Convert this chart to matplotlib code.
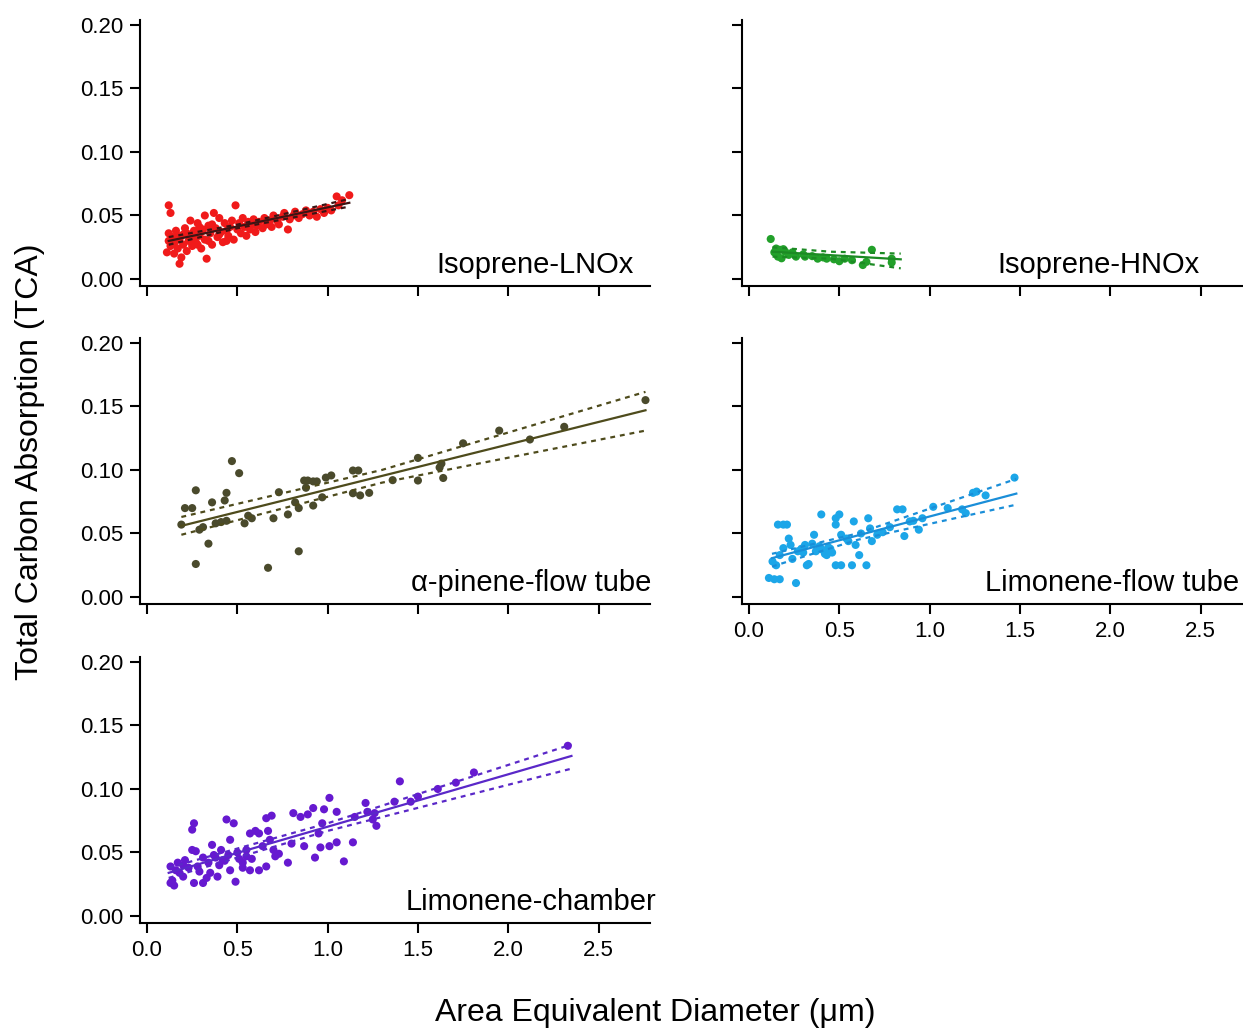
import numpy as np
import matplotlib
matplotlib.use('Agg')
import matplotlib.pyplot as plt

plt.rcParams['font.family'] = ['Liberation Sans', 'DejaVu Sans']
plt.rcParams['axes.linewidth'] = 1.5

# ---- Isoprene-LNOx (red) ----
lnox_d = [0.12, 0.13, 0.12, 0.11, 0.12, 0.13, 0.14, 0.15, 0.15, 0.16,
          0.17, 0.17, 0.18, 0.18, 0.19, 0.20, 0.20, 0.21, 0.22, 0.22,
          0.23, 0.24, 0.24, 0.25, 0.26, 0.26, 0.27, 0.28, 0.28, 0.29,
          0.29, 0.30, 0.30, 0.31, 0.32, 0.32, 0.33, 0.34, 0.34, 0.35,
          0.36, 0.36, 0.37, 0.38, 0.39, 0.40, 0.40, 0.41, 0.42, 0.43,
          0.44, 0.44, 0.45, 0.46, 0.47, 0.48, 0.49, 0.50, 0.51, 0.52,
          0.53, 0.54, 0.55, 0.56, 0.57, 0.58, 0.59, 0.60, 0.61, 0.62,
          0.64, 0.65, 0.66, 0.68, 0.69, 0.70, 0.72, 0.73, 0.75, 0.76,
          0.78, 0.79, 0.81, 0.82, 0.84, 0.86, 0.88, 0.90, 0.92, 0.94,
          0.96, 0.98, 1.00, 1.02, 1.05, 1.06, 1.08, 1.12]
lnox_tca = [0.058, 0.052, 0.036, 0.021, 0.030, 0.026, 0.033, 0.028, 0.020, 0.038,
            0.024, 0.034, 0.012, 0.031, 0.017, 0.035, 0.027, 0.040, 0.022, 0.036,
            0.030, 0.046, 0.033, 0.026, 0.038, 0.032, 0.029, 0.044, 0.027, 0.034,
            0.041, 0.024, 0.037, 0.039, 0.050, 0.031, 0.016, 0.042, 0.030, 0.036,
            0.027, 0.043, 0.052, 0.040, 0.033, 0.048, 0.035, 0.037, 0.029, 0.044,
            0.038, 0.030, 0.034, 0.041, 0.046, 0.031, 0.058, 0.039, 0.044, 0.036,
            0.048, 0.041, 0.034, 0.045, 0.039, 0.043, 0.047, 0.037, 0.042, 0.045,
            0.040, 0.048, 0.043, 0.046, 0.041, 0.050, 0.046, 0.043, 0.049, 0.052,
            0.039, 0.047, 0.050, 0.053, 0.048, 0.051, 0.054, 0.050, 0.053, 0.049,
            0.055, 0.052, 0.056, 0.054, 0.065, 0.058, 0.062, 0.066]
lnox_fx = [0.12, 0.5, 1.12]
lnox_fit = [0.030, 0.0414, 0.060]
lnox_hi = [0.033, 0.0428, 0.063]
lnox_lo = [0.027, 0.0400, 0.057]

# ---- Isoprene-HNOx (green) ----
hnox_d = [0.12, 0.15, 0.17, 0.19, 0.20, 0.16, 0.18, 0.22, 0.26, 0.30,
          0.31, 0.35, 0.38, 0.41, 0.43, 0.47, 0.50, 0.53, 0.57, 0.63,
          0.65, 0.68, 0.79, 0.79, 0.14, 0.24]
hnox_tca = [0.0315, 0.024, 0.023, 0.0235, 0.0215, 0.0176, 0.0163, 0.019, 0.0176, 0.0194,
            0.0176, 0.018, 0.016, 0.017, 0.016, 0.0155, 0.014, 0.016, 0.0148, 0.011,
            0.0135, 0.023, 0.016, 0.013, 0.021, 0.021]
hnox_fx = [0.13, 0.45, 0.84]
hnox_fit = [0.0215, 0.0188, 0.0155]
hnox_hi = [0.025, 0.0215, 0.020]
hnox_lo = [0.0176, 0.016, 0.0084]

# ---- alpha-pinene flow tube (olive) ----
apin_d = [0.19, 0.21, 0.25, 0.27, 0.34, 0.27, 0.29, 0.31, 0.36, 0.41,
          0.43, 0.44, 0.47, 0.51, 0.44, 0.54, 0.56, 0.67, 0.70, 0.73,
          0.78, 0.82, 0.84, 0.84, 0.87, 0.89, 0.92, 0.92, 0.94, 0.97,
          0.99, 1.02, 0.88, 1.14, 1.17, 1.14, 1.18, 1.23, 1.36, 1.50,
          1.50, 1.62, 1.63, 1.64, 1.75, 1.95, 2.12, 2.31, 2.76, 0.38, 0.58]
apin_tca = [0.057, 0.070, 0.070, 0.084, 0.042, 0.026, 0.053, 0.055, 0.0745, 0.059,
            0.076, 0.082, 0.107, 0.0975, 0.060, 0.058, 0.064, 0.023, 0.062, 0.0825,
            0.065, 0.0745, 0.070, 0.036, 0.0917, 0.0917, 0.091, 0.072, 0.091, 0.0785,
            0.094, 0.0957, 0.086, 0.0996, 0.0996, 0.0817, 0.080, 0.082, 0.092, 0.1095,
            0.0917, 0.102, 0.105, 0.0937, 0.121, 0.131, 0.124, 0.134, 0.155, 0.058, 0.062]
apin_fx = [0.19, 1.3, 2.76]
apin_fit = [0.056, 0.0953, 0.147]
apin_hi = [0.063, 0.100, 0.1615]
apin_lo = [0.049, 0.090, 0.131]

# ---- Limonene flow tube (cyan) ----
limf_d = [0.11, 0.14, 0.17, 0.15, 0.16, 0.19, 0.21, 0.17, 0.19, 0.22,
          0.23, 0.26, 0.27, 0.29, 0.30, 0.31, 0.32, 0.33, 0.36, 0.37,
          0.41, 0.43, 0.45, 0.46, 0.40, 0.48, 0.51, 0.48, 0.48, 0.50,
          0.51, 0.54, 0.57, 0.58, 0.59, 0.61, 0.65, 0.66, 0.67, 0.68,
          0.71, 0.74, 0.78, 0.82, 0.85, 0.86, 0.89, 0.91, 0.94, 0.96,
          1.02, 1.10, 1.18, 1.20, 1.24, 1.26, 1.31, 1.47, 0.42, 0.44,
          0.43, 0.39, 0.24, 0.13, 0.35, 0.55, 0.62]
limf_tca = [0.015, 0.014, 0.014, 0.025, 0.057, 0.057, 0.057, 0.033, 0.0385, 0.046,
            0.041, 0.011, 0.036, 0.038, 0.035, 0.041, 0.025, 0.026, 0.049, 0.036,
            0.037, 0.036, 0.038, 0.035, 0.065, 0.025, 0.025, 0.057, 0.062, 0.065,
            0.049, 0.046, 0.025, 0.0595, 0.041, 0.033, 0.025, 0.062, 0.054, 0.044,
            0.049, 0.051, 0.055, 0.069, 0.069, 0.048, 0.0595, 0.060, 0.053, 0.062,
            0.071, 0.070, 0.069, 0.066, 0.082, 0.083, 0.080, 0.094, 0.034, 0.039,
            0.033, 0.040, 0.030, 0.028, 0.042, 0.044, 0.050]
limf_fx = [0.127, 0.6, 1.48]
limf_fit = [0.0306, 0.0484, 0.0814]
limf_hi = [0.034, 0.050, 0.093]
limf_lo = [0.024, 0.045, 0.0727]

# ---- Limonene chamber (purple) ----
limc_d = [0.13, 0.13, 0.14, 0.17, 0.20, 0.21, 0.25, 0.26, 0.26, 0.31,
          0.25, 0.27, 0.28, 0.31, 0.34, 0.35, 0.36, 0.38, 0.40, 0.41,
          0.43, 0.44, 0.46, 0.48, 0.49, 0.51, 0.53, 0.55, 0.57, 0.60,
          0.62, 0.57, 0.62, 0.66, 0.66, 0.69, 0.67, 0.68, 0.70, 0.71,
          0.73, 0.78, 0.80, 0.81, 0.85, 0.87, 0.89, 0.92, 0.93, 0.95,
          0.97, 0.98, 1.01, 0.96, 1.01, 1.05, 1.05, 1.09, 1.14, 1.15,
          1.21, 1.22, 1.26, 1.27, 1.25, 1.40, 1.37, 1.46, 1.50, 1.61,
          1.71, 1.81, 2.33, 0.16, 0.20, 0.23, 0.29, 0.37, 0.39, 0.46,
          0.50, 0.53, 0.58, 0.64, 0.45, 0.15, 0.18, 0.33, 0.42, 0.55]
limc_tca = [0.026, 0.039, 0.028, 0.042, 0.040, 0.044, 0.068, 0.073, 0.026, 0.026,
            0.052, 0.051, 0.039, 0.046, 0.042, 0.034, 0.056, 0.046, 0.040, 0.052,
            0.0435, 0.076, 0.060, 0.073, 0.027, 0.045, 0.042, 0.047, 0.065, 0.067,
            0.065, 0.036, 0.036, 0.039, 0.077, 0.079, 0.067, 0.060, 0.052, 0.047,
            0.049, 0.042, 0.057, 0.081, 0.078, 0.055, 0.080, 0.085, 0.046, 0.065,
            0.073, 0.084, 0.093, 0.054, 0.055, 0.082, 0.058, 0.043, 0.058, 0.078,
            0.089, 0.082, 0.081, 0.071, 0.076, 0.106, 0.090, 0.090, 0.094, 0.100,
            0.105, 0.113, 0.134, 0.036, 0.031, 0.038, 0.035, 0.048, 0.031, 0.036,
            0.050, 0.038, 0.045, 0.055, 0.048, 0.024, 0.034, 0.030, 0.044, 0.052]
limc_fx = [0.12, 1.0, 2.35]
limc_fit = [0.034, 0.0703, 0.126]
limc_hi = [0.038, 0.073, 0.135]
limc_lo = [0.030, 0.067, 0.116]

yticks = [0.00, 0.05, 0.10, 0.15, 0.20]
xticks = [0.0, 0.5, 1.0, 1.5, 2.0, 2.5]

fig = plt.figure(figsize=(12.43, 10.29), dpi=100)

W, H = 1243.0, 1029.0
def make_ax(left_px, bottom_px):
    # axes box 510 x 266 px, bottom edge = x spine position
    return fig.add_axes([left_px / W, 1 - bottom_px / H, 510 / W, 266 / H])

panels = [
    # left, bottom, x, y, fit..., pts color, line color, label, label x, xlabels, ylabels
    (140, 286, lnox_d, lnox_tca, lnox_fx, lnox_fit, lnox_hi, lnox_lo, '#f01a1a', '#3c1414',
     'Isoprene-LNOx', 0.968, False, True),
    (742, 286, hnox_d, hnox_tca, hnox_fx, hnox_fit, hnox_hi, hnox_lo, '#22a02a', '#1c8a24',
     'Isoprene-HNOx', 0.898, False, False),
    (140, 604, apin_d, apin_tca, apin_fx, apin_fit, apin_hi, apin_lo, '#4a4a2c', '#4e4b1c',
     '\u03b1-pinene-flow tube', 1.002, False, True),
    (742, 604, limf_d, limf_tca, limf_fx, limf_fit, limf_hi, limf_lo, '#1ca6e8', '#1a8ed8',
     'Limonene-flow tube', 0.974, True, False),
    (140, 923, limc_d, limc_tca, limc_fx, limc_fit, limc_hi, limc_lo, '#6619d0', '#5a28c8',
     'Limonene-chamber', 1.013, True, True),
]

for (lpx, bpx, xd, yd, fx, fit, hi, lo, pc, lc, name, lx, show_x, show_y) in panels:
    ax = make_ax(lpx, bpx)
    ax.scatter(xd, yd, s=34, color=pc, edgecolors='none', zorder=3, clip_on=False)
    ax.plot(fx, fit, '-', color=lc, lw=1.6, zorder=4)
    ax.plot(fx, hi, color=lc, lw=1.6, ls=(0, (2.2, 2.2)), zorder=4)
    ax.plot(fx, lo, color=lc, lw=1.6, ls=(0, (2.2, 2.2)), zorder=4)

    ax.set_xlim(-0.039, 2.785)
    ax.set_ylim(-0.0055, 0.2039)
    ax.spines['top'].set_visible(False)
    ax.spines['right'].set_visible(False)
    ax.set_xticks(xticks)
    ax.set_yticks(yticks)
    ax.tick_params(direction='out', length=7, width=1.5, labelsize=16, pad=5)
    if show_x:
        ax.set_xticklabels(['%.1f' % t for t in xticks])
    else:
        ax.set_xticklabels([])
    if show_y:
        ax.set_yticklabels(['%.2f' % t for t in yticks])
    else:
        ax.set_yticklabels([])
    ax.text(lx, 0.05, name, transform=ax.transAxes, ha='right', va='baseline',
            fontsize=21, clip_on=False)

fig.text(30 / W, 1 - 462 / H, 'Total Carbon Absorption (TCA)', rotation=90,
         ha='center', va='center', fontsize=23)
fig.text(655 / W, 1 - 1013 / H, 'Area Equivalent Diameter (\u03bcm)',
         ha='center', va='center', fontsize=23)

fig.savefig('out.png', dpi=100)
